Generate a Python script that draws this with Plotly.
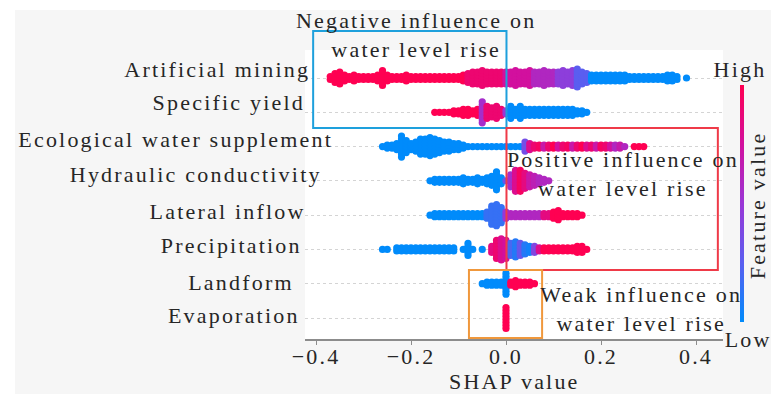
import plotly.graph_objects as go

# ---------------- data ----------------
features = ["Artificial mining", "Specific yield", "Ecological water supplement",
            "Hydraulic conductivity", "Lateral inflow", "Precipitation",
            "Landform", "Evaporation"]

# each row: SHAP value of first bin (bins every 0.01), dots per bin, feature value per bin
am_start = -0.37
am_counts = [2, 4, 5, 3, 2, 3, 2, 2, 2, 2, 3, 6, 3, 2, 2, 2, 3, 2, 2, 2, 2, 2, 2, 2, 2, 2, 2, 2, 3,
             4, 5, 5, 6, 5, 5, 5, 5,
             5, 5, 6, 5, 5, 6, 5, 5, 6, 5, 5, 5, 6, 5, 6, 7, 5, 4,
             3, 3, 3, 3, 3, 3, 3, 3, 2, 2, 2, 2, 2, 2, 2, 2, 3, 3, 2, 0, 1]
am_fv = [1.0] * 29 + [0.9] * 8 + [0.75] * 6 + [0.6] * 5 + [0.45] * 4 + [0.25] * 3 + [0.0] * 21

sy_start = -0.15
sy_counts = [1, 1, 1, 1, 2, 2, 3, 3, 2, 3, 8, 5, 4, 5, 3, 2,
             5, 3, 5, 3, 3, 3, 3, 3, 3, 3, 3, 3, 3, 3, 2, 2, 1]
sy_fv = [1.0] * 10 + [0.55, 0.9, 0.9, 0.9, 0.9, 0.5] + [0.0] * 17

ew_start = -0.26
ew_counts = [1, 2, 2, 3, 8, 5, 3, 4, 6, 6, 7, 6, 5, 4, 4, 3, 3, 2,
             1, 1, 1, 1, 1, 1, 1, 1, 1, 1, 1, 1,
             4, 3] + [2] * 19 + [1, 0, 1, 1, 1]
ew_fv = [0.0] * 30 + [0.35, 0.8] + [0.9, 0.95, 0.7, 0.9, 1.0, 0.75, 0.9, 0.95, 0.7, 0.9,
                                    1.0, 0.8, 0.9, 0.7, 0.95, 0.9, 0.75, 0.6, 0.7] + [0.6, 1.0, 1.0, 1.0, 1.0]

hc_start = -0.16
hc_counts = [1, 2, 2, 2, 2, 2, 2, 3, 2, 2, 3, 2, 3, 4, 7, 3, 1, 5, 8, 8, 6, 5, 4, 3, 2, 1]
hc_fv = [0.0] * 16 + [0.3, 0.55, 0.8, 0.95, 0.85, 0.7, 0.65, 0.6, 0.6, 0.6]

li_start = -0.16
li_counts = [1] + [2] * 11 + [3, 7, 8, 6, 3] + [2] * 9 + [3, 4, 2, 2, 2, 2, 1]
li_fv = [0.0] * 12 + [0.15] * 4 + [0.5] + [0.6] * 7 + [0.85, 0.85] + [1.0] * 7

pr_start = -0.26
pr_counts = [1, 1, 0] + [2] * 13 + [0, 1, 5, 1, 0, 1, 0,
                                    3, 7, 8, 7, 5, 6, 5, 4, 3, 3] + [2] * 8 + [3, 3, 1]
pr_fv = [0.0] * 23 + [0.85, 0.9, 0.8, 0.75, 0.2, 0.1, 0.3, 0.1, 0.05, 0.4, 0.8] + [1.0] * 10

lf_start = -0.05
lf_counts = [1, 2, 2, 2, 2, 8, 2, 3, 2, 2, 2, 1]
lf_fv = [0.0] * 6 + [1.0] * 6

ev_start = 0.0
ev_counts = [8]
ev_fv = [1.0]

rows = [(am_start, am_counts, am_fv), (sy_start, sy_counts, sy_fv),
        (ew_start, ew_counts, ew_fv), (hc_start, hc_counts, hc_fv),
        (li_start, li_counts, li_fv), (pr_start, pr_counts, pr_fv),
        (lf_start, lf_counts, lf_fv), (ev_start, ev_counts, ev_fv)]

x_tickvals = [-0.4, -0.2, 0.0, 0.2, 0.4]
x_ticktext = ["\u22120.4", "\u22120.2", "0.0", "0.2", "0.4"]

# ---------------- layout helpers ----------------
W, H = 771, 394
L, R, T, B = 305, 723, 50, 339          # plot-area pixel box
def pxx(px): return (px - L) / (R - L)
def pxy(py): return (B - py) / (B - T)

FONT = "Liberation Serif"
FS = 22
TXT = "#262626"

n = len(features)
dy = 0.0875
xs, ys, cs = [], [], []
for i, (start, counts, fv) in enumerate(rows):
    y0 = n - 1 - i
    for j, (c, f) in enumerate(zip(counts, fv)):
        xv = round(start + 0.01 * j, 4)
        for k in range(c):
            xs.append(xv)
            ys.append(y0 + (k - (c - 1) / 2) * dy)
            cs.append(f)

cscale = [[0.0, "#008bfb"], [0.25, "#5a5ef0"], [0.5, "#9a36d6"],
          [0.75, "#d2109e"], [1.0, "#ff0052"]]

fig = go.Figure()
fig.add_trace(go.Scatter(
    x=xs, y=ys, mode="markers", hoverinfo="skip",
    marker=dict(size=7.2, color=cs, colorscale=cscale, cmin=0, cmax=1,
                line=dict(width=0),
                showscale=True,
                colorbar=dict(thickness=4, thicknessmode="pixels",
                              len=237, lenmode="pixels",
                              x=pxx(740), xanchor="left", xpad=0,
                              y=pxy(203.5), yanchor="middle", ypad=0,
                              outlinewidth=0, showticklabels=False, ticks=""))))

ann = []
def text_at(t, cx, base, lines=1, **kw):
    if lines == 1:
        cy = base - 7.4
    else:
        cy = base + 14.3 - 7.4
    ann.append(dict(text=t, x=pxx(cx), y=pxy(cy), xref="paper", yref="paper",
                    xanchor="center", yanchor="middle", showarrow=False,
                    font=dict(family=FONT, size=FS, color=TXT), **kw))

# feature labels
label_cx = [216.5, 228.5, 175.5, 195.5, 227.5, 230.5, 241, 234]
label_base = [77, 110, 147, 182, 219, 253, 290, 323]
for name, cx, b in zip(features, label_cx, label_base):
    text_at(name, cx, b)

text_at("Negative influence on<br>water level rise", 416, 28, lines=2)
text_at("Positive influence on<br>water level rise", 623, 167, lines=2)
text_at("Weak influence on<br>water level rise", 641, 302, lines=2)
text_at("High", 740, 77)
text_at("Low", 748, 347)
text_at("SHAP value", 514, 389)
ann.append(dict(text="Feature value", x=pxx(757), y=pxy(206), xref="paper", yref="paper",
                xanchor="center", yanchor="middle", showarrow=False, textangle=-90,
                font=dict(family=FONT, size=FS, color=TXT)))

shapes = [
    dict(type="rect", xref="paper", yref="paper", x0=pxx(0), x1=pxx(W), y0=pxy(10), y1=pxy(0),
         fillcolor="white", line=dict(width=0), layer="below"),
    dict(type="rect", xref="paper", yref="paper", x0=pxx(0), x1=pxx(15), y0=pxy(H), y1=pxy(0),
         fillcolor="white", line=dict(width=0), layer="below"),
    dict(type="rect", xref="x", yref="paper", x0=-0.406, x1=0.001, y0=pxy(128), y1=pxy(31),
         line=dict(color="#1ea0dc", width=2)),
    dict(type="rect", xref="x", yref="paper", x0=0.001, x1=0.446, y0=pxy(270), y1=pxy(128),
         line=dict(color="#ef3a48", width=2)),
    dict(type="rect", xref="x", yref="paper", x0=-0.078, x1=0.076, y0=pxy(338), y1=pxy(270),
         line=dict(color="#f0983c", width=2)),
]

fig.update_layout(
    width=W, height=H,
    margin=dict(l=L, r=W - R, t=T, b=H - B, pad=0),
    paper_bgcolor="#f6f6f6", plot_bgcolor="white",
    showlegend=False, annotations=ann, shapes=shapes,
    font=dict(family=FONT, size=FS, color=TXT),
    xaxis=dict(range=[(L - 506) / 475, (R - 506) / 475], tickvals=x_tickvals,
               ticktext=x_ticktext, showgrid=False, zeroline=False,
               showline=True, linecolor="#8c8c8c", linewidth=1.5,
               ticks="outside", ticklen=4, tickcolor="#8c8c8c",
               ticklabelstandoff=-7,
               tickfont=dict(family=FONT, size=FS, color=TXT)),
    yaxis=dict(range=[(318 - B) / 34.286, (318 - T) / 34.286],
               tickvals=list(range(n)), showticklabels=False,
               showgrid=True, gridcolor="#d4d4d4", griddash="dot", gridwidth=1,
               zeroline=False, showline=False, ticks=""),
)

post = """
var s=document.createElement('style');
s.innerHTML='.js-plotly-plot svg text{letter-spacing:2.2px !important;}';
document.head.appendChild(s);
"""
fig.write_html("out.html", post_script=post)
